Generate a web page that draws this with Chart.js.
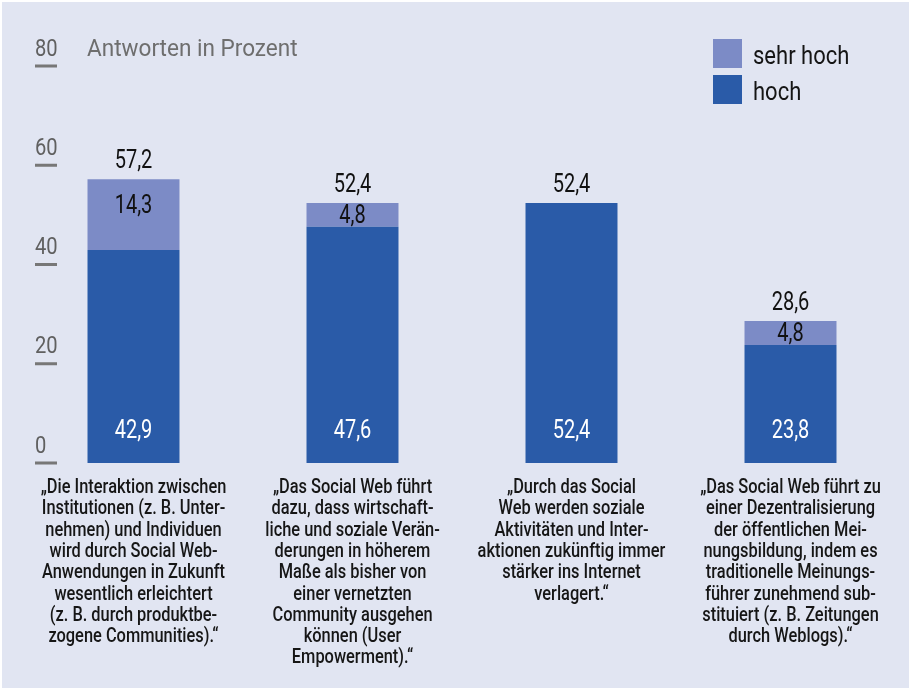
<!DOCTYPE html>
<html>
<head>
<meta charset="utf-8">
<script src="https://cdn.jsdelivr.net/npm/chart.js@4/dist/chart.umd.min.js"></script>
<style>
  html, body { margin: 0; padding: 0; background: #ffffff; }
  #wrap { width: 911px; height: 690px; }
</style>
</head>
<body>
<div id="wrap"><canvas id="chart" width="911" height="690"></canvas></div>
<script>
    'use strict';

    const categories = [
        ['„Die Interaktion zwischen', 'Institutionen (z. B. Unter-', 'nehmen) und Individuen', 'wird durch Social Web-', 'Anwendungen in Zukunft', 'wesentlich erleichtert', '(z. B. durch produktbe-', 'zogene Communities).“'],
        ['„Das Social Web führt', 'dazu, dass wirtschaft-', 'liche und soziale Verän-', 'derungen in höherem', 'Maße als bisher von', 'einer vernetzten', 'Community ausgehen', 'können (User', 'Empowerment).“'],
        ['„Durch das Social', 'Web werden soziale', 'Aktivitäten und Inter-', 'aktionen zukünftig immer', 'stärker ins Internet', 'verlagert.“'],
        ['„Das Social Web führt zu', 'einer Dezentralisierung', 'der öffentlichen Mei-', 'nungsbildung, indem es', 'traditionelle Meinungs-', 'führer zunehmend sub-', 'stituiert (z. B. Zeitungen', 'durch Weblogs).“']
    ];
    const hoch = [42.9, 47.6, 52.4, 23.8];
    const sehrHoch = [14.3, 4.8, 0, 4.8];
    const totals = [57.2, 52.4, 52.4, 28.6];
    const yTicks = [0, 20, 40, 60, 80];
    const axisTitle = 'Antworten in Prozent';

    const FONT = 'Roboto, "Liberation Sans", sans-serif';
    const fmt = v => v.toFixed(1).replace('.', ',');

    // draw horizontally condensed text
    function text(ctx, str, x, y, align, sx) {
        ctx.save();
        ctx.translate(x, y);
        ctx.scale(sx || 0.84, 1);
        ctx.textAlign = align;
        ctx.textBaseline = 'alphabetic';
        ctx.fillText(str, 0, 0);
        ctx.restore();
    }

    const extras = {
        id: 'extras',
        beforeDraw(chart) {
            const ctx = chart.ctx;
            ctx.save();
            ctx.fillStyle = '#ffffff';
            ctx.fillRect(0, 0, chart.width, chart.height);
            ctx.fillStyle = '#e1e5f2';
            ctx.fillRect(2, 2, chart.width - 4, chart.height - 4);
            ctx.restore();
        },
        afterDatasetsDraw(chart) {
            const ctx = chart.ctx;
            const x = chart.scales.x;
            const y = chart.scales.y;
            ctx.save();

            // y ticks: number above a short dash
            ctx.font = '24px ' + FONT;
            yTicks.forEach(t => {
                const py = y.getPixelForValue(t);
                ctx.fillStyle = '#606060';
                text(ctx, String(t), 35, py - 10.5, 'left');
                ctx.fillStyle = '#777777';
                ctx.fillRect(35, py - 1.5, 22, 3);
            });

            // axis title
            ctx.fillStyle = '#6e6e6e';
            text(ctx, axisTitle, 87, y.getPixelForValue(80) - 10.5, 'left', 0.94);

            // legend
            ctx.font = '25px ' + FONT;
            const legend = [['sehr hoch', '#7c8bc6'], ['hoch', '#2a5ba8']];
            legend.forEach((item, i) => {
                const top = 39 + i * 36;
                ctx.fillStyle = item[1];
                ctx.fillRect(713, top, 29, 29);
                ctx.fillStyle = '#151515';
                text(ctx, item[0], 753, top + 24.5, 'left', 0.88);
            });

            // value labels
            ctx.font = '25px ' + FONT;
            const m0 = chart.getDatasetMeta(0);
            const m1 = chart.getDatasetMeta(1);
            hoch.forEach((v, i) => {
                const bar = m0.data[i];
                ctx.fillStyle = '#ffffff';
                text(ctx, fmt(v), bar.x, bar.base - 25, 'center', 0.8);
            });
            sehrHoch.forEach((v, i) => {
                if (!v) return;
                const bar = m1.data[i];
                ctx.fillStyle = '#111111';
                text(ctx, fmt(v), bar.x, Math.min(bar.y + 34, bar.base - 4), 'center', 0.8);
            });
            totals.forEach((v, i) => {
                ctx.fillStyle = '#111111';
                text(ctx, fmt(v), m0.data[i].x, y.getPixelForValue(v) - 11, 'center', 0.8);
            });

            // category statements under the bars
            ctx.font = '500 20px ' + FONT;
            ctx.fillStyle = '#161616';
            categories.forEach((lines, i) => {
                const cx = x.getPixelForValue(i);
                lines.forEach((line, j) => {
                    text(ctx, line, cx, 493 + j * 21.3, 'center', 0.82);
                });
            });
            ctx.restore();
        }
    };

    new Chart(document.getElementById('chart'), {
        type: 'bar',
        data: {
            labels: categories,
            datasets: [
                {
                    label: 'hoch',
                    data: hoch,
                    backgroundColor: '#2a5ba8',
                    barPercentage: 0.42,
                    categoryPercentage: 1
                },
                {
                    label: 'sehr hoch',
                    data: sehrHoch,
                    backgroundColor: '#7c8bc6',
                    barPercentage: 0.42,
                    categoryPercentage: 1
                }
            ]
        },
        options: {
            responsive: false,
            animation: false,
            layout: {
                padding: { top: 66, left: 24, right: 11, bottom: 0 }
            },
            plugins: {
                legend: { display: false },
                tooltip: { enabled: false }
            },
            scales: {
                x: {
                    stacked: true,
                    grid: { display: false, drawTicks: false },
                    border: { display: false },
                    ticks: { display: false },
                    afterFit: function (scale) {
                        scale.height = 227;
                    }
                },
                y: {
                    stacked: true,
                    display: false,
                    min: 0,
                    max: 80
                }
            }
        },
        plugins: [extras]
    });
</script>
</body>
</html>
